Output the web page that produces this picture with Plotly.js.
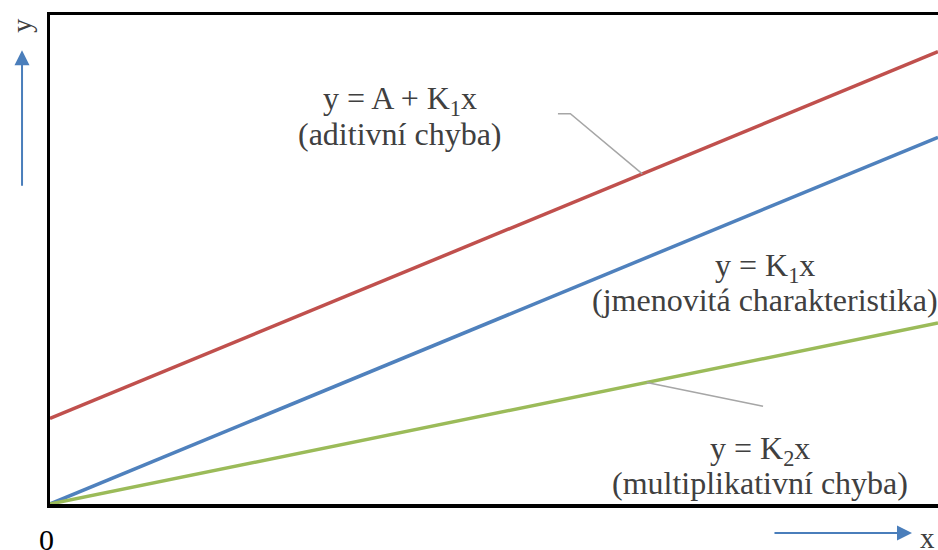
<!DOCTYPE html>
<html>
<head>
<meta charset="utf-8">
<script src="https://cdn.plot.ly/plotly-3.0.1.min.js"></script>
<style>
  html, body { margin: 0; padding: 0; background: #ffffff; overflow: hidden; }
  #chart { width: 938px; height: 550px; }
</style>
</head>
<body>
<div id="chart"></div>
<script>
// Static characteristics of a measuring instrument: nominal, additive and multiplicative error
const xValues = [0, 10];
const additiveY = [1.75, 9.25];      // y = A + K1 x
const nominalY = [0, 7.5];           // y = K1 x
const multiplicativeY = [0, 3.7];    // y = K2 x

const additiveLabel = ['y = A + K<sub>1</sub>x', '(aditivní chyba)'];
const nominalLabel = ['y = K<sub>1</sub>x', '(jmenovitá charakteristika)'];
const multiplicativeLabel = ['y = K<sub>2</sub>x', '(multiplikativní chyba)'];

const textColor = '#404040';
const serif = 'Liberation Serif, serif';
const leaderColor = '#a6a6a6';
const arrowColor = '#4a7ebb';

// value of a straight series at a given x
function valueAt(xs, ys, x) {
  const t = (x - xs[0]) / (xs[1] - xs[0]);
  return ys[0] + t * (ys[1] - ys[0]);
}

const traces = [
  { x: xValues, y: additiveY, mode: 'lines', line: { color: '#c0504d', width: 3.5 }, hoverinfo: 'skip' },
  { x: xValues, y: nominalY, mode: 'lines', line: { color: '#4f81bd', width: 3.5 }, hoverinfo: 'skip' },
  { x: xValues, y: multiplicativeY, mode: 'lines', line: { color: '#9bbb59', width: 3.5 }, hoverinfo: 'skip' }
];

function label(text, x, y) {
  return { text: text, x: x, y: y, xref: 'x', yref: 'y', showarrow: false,
           xanchor: 'center', yanchor: 'middle',
           font: { family: serif, size: 32, color: textColor } };
}

const redAnchorX = 6.67;
const greenAnchorX = 6.72;

const annotations = [
  label(additiveLabel[0], 3.94, 8.26),
  label(additiveLabel[1], 3.94, 7.57),
  label(nominalLabel[0], 8.05, 4.83),
  label(nominalLabel[1], 8.05, 4.17),
  label(multiplicativeLabel[0], 8.0, 1.09),
  label(multiplicativeLabel[1], 8.0, 0.43),
  // axis direction arrows
  { x: -0.0315, y: 0.928, xref: 'paper', yref: 'paper', ax: 0, ay: 137, text: '',
    showarrow: true, arrowhead: 2, arrowsize: 1.5, arrowwidth: 2, arrowcolor: arrowColor },
  { x: 0.9707, y: -0.0593, xref: 'paper', yref: 'paper', ax: -139, ay: 0, text: '',
    showarrow: true, arrowhead: 2, arrowsize: 1.5, arrowwidth: 2, arrowcolor: arrowColor },
  // axis letters and origin
  { text: 'y', x: -0.0315, y: 0.978, xref: 'paper', yref: 'paper', showarrow: false, textangle: -90,
    xanchor: 'center', yanchor: 'middle', font: { family: serif, size: 28, color: textColor } },
  { text: 'x', x: 0.9887, y: -0.0695, xref: 'paper', yref: 'paper', showarrow: false,
    xanchor: 'center', yanchor: 'middle', font: { family: serif, size: 29, color: textColor } },
  { text: '0', x: -0.0034, y: -0.0736, xref: 'paper', yref: 'paper', showarrow: false,
    xanchor: 'center', yanchor: 'middle', font: { family: serif, size: 30, color: '#000000' } }
];

const shapes = [
  // leader from the additive-error label to its line
  { type: 'path', xref: 'x', yref: 'y',
    path: `M 5.72 7.98 L 5.86 7.98 L ${redAnchorX} ${valueAt(xValues, additiveY, redAnchorX)}`,
    line: { color: leaderColor, width: 1.5 } },
  // leader from the multiplicative-error label to its line
  { type: 'line', xref: 'x', yref: 'y',
    x0: greenAnchorX, y0: valueAt(xValues, multiplicativeY, greenAnchorX), x1: 8.03, y1: 2.0,
    line: { color: leaderColor, width: 1.5 } }
];

const layout = {
  width: 938, height: 550,
  margin: { l: 50, r: 0, t: 15, b: 46 },
  font: { family: serif, color: textColor },
  paper_bgcolor: '#ffffff', plot_bgcolor: '#ffffff',
  showlegend: false,
  xaxis: { range: [0, 10], showgrid: false, zeroline: false, showticklabels: false, ticks: '',
           showline: true, linecolor: '#000000', linewidth: 3.5, mirror: true, fixedrange: true },
  yaxis: { range: [0, 10], showgrid: false, zeroline: false, showticklabels: false, ticks: '',
           showline: true, linecolor: '#000000', linewidth: 3.5, fixedrange: true },
  annotations: annotations,
  shapes: shapes
};

Plotly.newPlot('chart', traces, layout, { displayModeBar: false, staticPlot: true });
</script>
</body>
</html>
